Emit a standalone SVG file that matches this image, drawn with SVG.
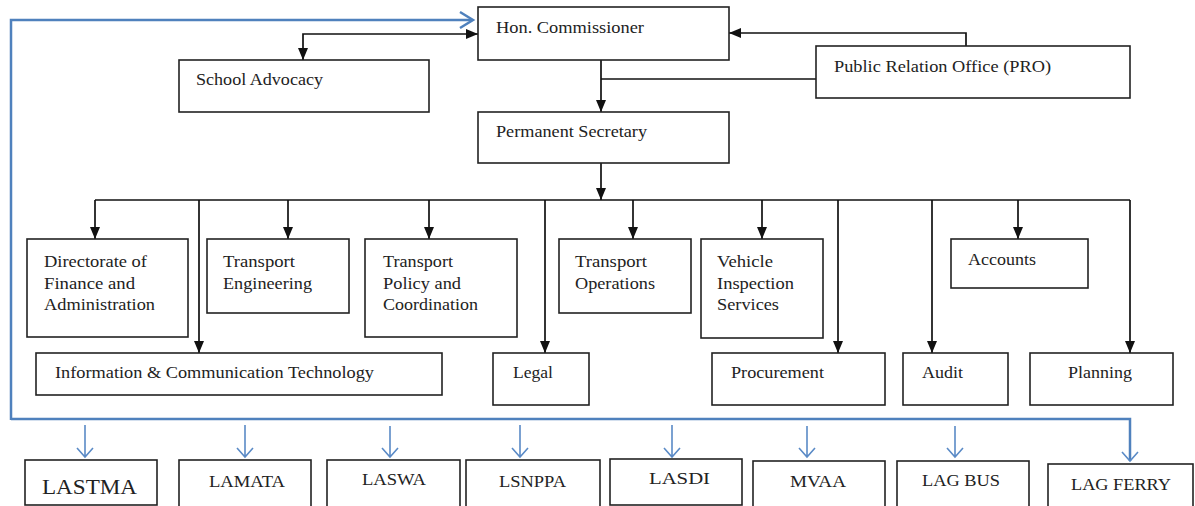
<svg xmlns="http://www.w3.org/2000/svg" width="1195" height="506" viewBox="0 0 1195 506">
<style>
.box{fill:#fff;stroke:#222;stroke-width:1.6}
.t{font-family:"Liberation Serif","Times New Roman",serif;font-size:17px;fill:#222}
.b{font-family:"Liberation Serif","Times New Roman",serif;font-size:16px;fill:#222}
.c{fill:none;stroke:#111;stroke-width:1.7}
.bl{fill:none;stroke:#4f81bd;stroke-width:2.5}
.bs{fill:none;stroke:#5a8ac6;stroke-width:1.6}
</style>
<defs>
<marker id="ah" markerUnits="userSpaceOnUse" markerWidth="12" markerHeight="11" refX="12" refY="5.5" orient="auto-start-reverse" viewBox="0 0 12 11">
<path d="M0,0.5 L12,5.5 L0,10.5 z" fill="#111"/>
</marker>
</defs>
<g id="connectors">
<path class="bl" d="M11,420 V20 H472"/>
<path class="bl" d="M460,12 L473,20 L460,28"/>
<path class="bl" d="M11,419 H1130 V461"/>
<path class="bs" d="M1122,452 L1130,461 L1138,452"/>
<g class="bs">
<path d="M85,425 V457 M77,448 L85,457 L93,448"/>
<path d="M245,425 V457 M237,448 L245,457 L253,448"/>
<path d="M390,426 V457 M382,448 L390,457 L398,448"/>
<path d="M520,425 V457 M512,448 L520,457 L528,448"/>
<path d="M672,425 V457 M664,448 L672,457 L680,448"/>
<path d="M807,426 V457 M799,448 L807,457 L815,448"/>
<path d="M955,426 V457 M947,448 L955,457 L963,448"/>
</g>
<path class="c" d="M478,34 H303 V60" marker-start="url(#ah)" marker-end="url(#ah)"/>
<path class="c" d="M601,60 V112" marker-end="url(#ah)"/>
<path class="c" d="M816,79 H601"/>
<path class="c" d="M966,46 V33 H729" marker-end="url(#ah)"/>
<path class="c" d="M601,163 V200" marker-end="url(#ah)"/>
<path class="c" d="M95,200 H1130"/>
<path class="c" d="M95,200 V239" marker-end="url(#ah)"/>
<path class="c" d="M199,200 V353" marker-end="url(#ah)"/>
<path class="c" d="M288,200 V239" marker-end="url(#ah)"/>
<path class="c" d="M429,200 V239" marker-end="url(#ah)"/>
<path class="c" d="M545,200 V353" marker-end="url(#ah)"/>
<path class="c" d="M633,200 V239" marker-end="url(#ah)"/>
<path class="c" d="M762,200 V239" marker-end="url(#ah)"/>
<path class="c" d="M838,200 V353" marker-end="url(#ah)"/>
<path class="c" d="M932,200 V353" marker-end="url(#ah)"/>
<path class="c" d="M1018,200 V239" marker-end="url(#ah)"/>
<path class="c" d="M1130,200 V353" marker-end="url(#ah)"/>
</g>
<g id="hon-commissioner"><rect class="box" x="478" y="7" width="251" height="53"/><text class="t" x="496" y="33" textLength="148" lengthAdjust="spacingAndGlyphs">Hon. Commissioner</text></g>
<g id="school-advocacy"><rect class="box" x="179" y="60" width="250" height="52"/><text class="t" x="196" y="85" textLength="127" lengthAdjust="spacingAndGlyphs">School Advocacy</text></g>
<g id="pro"><rect class="box" x="816" y="46" width="314" height="52"/><text class="t" x="834" y="72" textLength="217" lengthAdjust="spacingAndGlyphs">Public Relation Office (PRO)</text></g>
<g id="permanent-secretary"><rect class="box" x="478" y="112" width="251" height="51"/><text class="t" x="496" y="137" textLength="151" lengthAdjust="spacingAndGlyphs">Permanent Secretary</text></g>
<g id="directorate"><rect class="box" x="27" y="239" width="161" height="98"/>
<text class="t" x="44" y="267" textLength="103" lengthAdjust="spacingAndGlyphs">Directorate of</text>
<text class="t" x="44" y="289" textLength="91" lengthAdjust="spacingAndGlyphs">Finance and</text>
<text class="t" x="44" y="310" textLength="111" lengthAdjust="spacingAndGlyphs">Administration</text></g>
<g id="transport-engineering"><rect class="box" x="207" y="239" width="142" height="74"/>
<text class="t" x="223" y="267" textLength="72" lengthAdjust="spacingAndGlyphs">Transport</text>
<text class="t" x="223" y="289" textLength="89" lengthAdjust="spacingAndGlyphs">Engineering</text></g>
<g id="transport-policy"><rect class="box" x="365" y="239" width="152" height="98"/>
<text class="t" x="383" y="267" textLength="70" lengthAdjust="spacingAndGlyphs">Transport</text>
<text class="t" x="383" y="289" textLength="78" lengthAdjust="spacingAndGlyphs">Policy and</text>
<text class="t" x="383" y="310" textLength="95" lengthAdjust="spacingAndGlyphs">Coordination</text></g>
<g id="transport-operations"><rect class="box" x="559" y="239" width="132" height="74"/>
<text class="t" x="575" y="267" textLength="72" lengthAdjust="spacingAndGlyphs">Transport</text>
<text class="t" x="575" y="289" textLength="80" lengthAdjust="spacingAndGlyphs">Operations</text></g>
<g id="vehicle-inspection"><rect class="box" x="701" y="239" width="122" height="99"/>
<text class="t" x="717" y="267" textLength="56" lengthAdjust="spacingAndGlyphs">Vehicle</text>
<text class="t" x="717" y="289" textLength="77" lengthAdjust="spacingAndGlyphs">Inspection</text>
<text class="t" x="717" y="310" textLength="62" lengthAdjust="spacingAndGlyphs">Services</text></g>
<g id="accounts"><rect class="box" x="951" y="239" width="137" height="49"/>
<text class="t" x="968" y="265" textLength="68" lengthAdjust="spacingAndGlyphs">Accounts</text></g>
<g id="ict"><rect class="box" x="36" y="353" width="406" height="42"/>
<text class="t" x="55" y="378" textLength="319" lengthAdjust="spacingAndGlyphs">Information &amp; Communication Technology</text></g>
<g id="legal"><rect class="box" x="493" y="353" width="96" height="52"/>
<text class="t" x="513" y="378" textLength="40" lengthAdjust="spacingAndGlyphs">Legal</text></g>
<g id="procurement"><rect class="box" x="712" y="353" width="173" height="52"/>
<text class="t" x="731" y="378" textLength="93" lengthAdjust="spacingAndGlyphs">Procurement</text></g>
<g id="audit"><rect class="box" x="903" y="353" width="105" height="52"/>
<text class="t" x="922" y="378" textLength="41" lengthAdjust="spacingAndGlyphs">Audit</text></g>
<g id="planning"><rect class="box" x="1030" y="353" width="143" height="52"/>
<text class="t" x="1068" y="378" textLength="64" lengthAdjust="spacingAndGlyphs">Planning</text></g>
<g id="lastma"><rect class="box" x="25" y="460" width="132" height="45"/>
<text class="b" x="42" y="494" style="font-size:21px" textLength="95" lengthAdjust="spacingAndGlyphs">LASTMA</text></g>
<g id="lamata"><rect class="box" x="179" y="460" width="132" height="56"/>
<text class="b" x="209" y="487" textLength="76" lengthAdjust="spacingAndGlyphs">LAMATA</text></g>
<g id="laswa"><rect class="box" x="327" y="460" width="133" height="56"/>
<text class="b" x="362" y="485" textLength="64" lengthAdjust="spacingAndGlyphs">LASWA</text></g>
<g id="lsnppa"><rect class="box" x="466" y="460" width="134" height="56"/>
<text class="b" x="499" y="487" textLength="67" lengthAdjust="spacingAndGlyphs">LSNPPA</text></g>
<g id="lasdi"><rect class="box" x="610" y="459" width="132" height="46"/>
<text class="b" x="649" y="484" textLength="61" lengthAdjust="spacingAndGlyphs">LASDI</text></g>
<g id="mvaa"><rect class="box" x="753" y="461" width="132" height="56"/>
<text class="b" x="790" y="487" textLength="56" lengthAdjust="spacingAndGlyphs">MVAA</text></g>
<g id="lag-bus"><rect class="box" x="897" y="461" width="132" height="56"/>
<text class="b" x="922" y="486" textLength="78" lengthAdjust="spacingAndGlyphs">LAG BUS</text></g>
<g id="lag-ferry"><rect class="box" x="1048" y="464" width="145" height="56"/>
<text class="b" x="1071" y="490" textLength="100" lengthAdjust="spacingAndGlyphs">LAG FERRY</text></g>
</svg>
